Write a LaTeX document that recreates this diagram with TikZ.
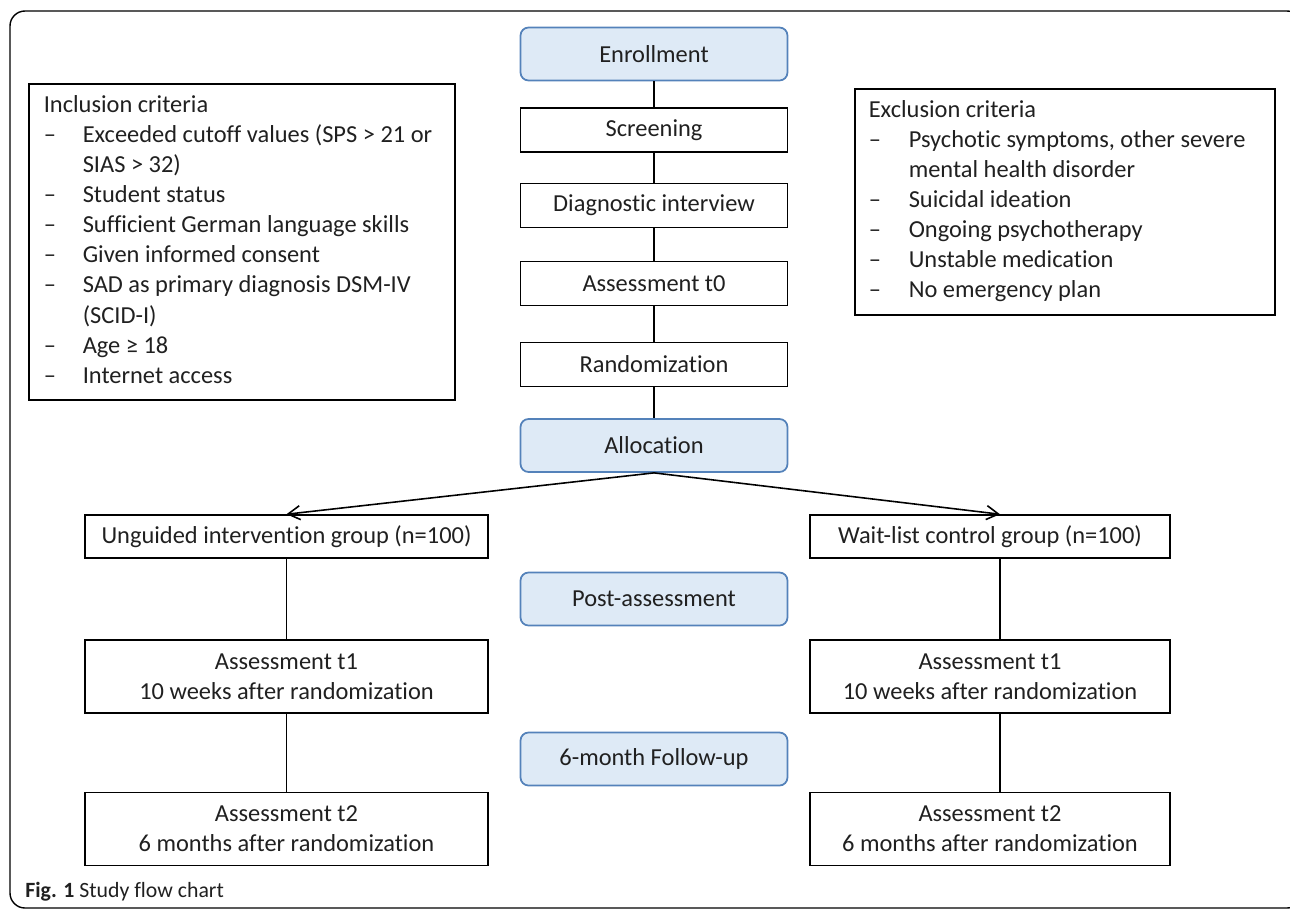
\documentclass[tikz,border=0pt]{standalone}
\usepackage{fontspec}
\setmainfont{Carlito}[Ligatures=NoCommon]
\usepackage{array}
\usepackage{xcolor}
\usetikzlibrary{arrows.meta, positioning}
\definecolor{phasefill}{RGB}{222,234,246}
\definecolor{phaseline}{RGB}{84,130,186}
\definecolor{ink}{RGB}{32,32,32}
\newcommand{\flowfont}{\fontsize{13.9}{17.1}\selectfont}
\tikzset{
    every node/.style={font=\flowfont, text=ink}, % one font for the whole chart
    stage/.style={draw, line width=0.9pt, minimum width=5.34cm, minimum height=0.88cm, inner sep=0pt}, % white steps in the middle
    phase/.style={draw=phaseline, fill=phasefill, line width=1pt, rounded corners=0.16cm,
        minimum width=5.34cm, minimum height=1.06cm, inner sep=0pt}, % blue phase labels
    arm/.style={draw, line width=0.9pt, minimum width=8.06cm, minimum height=0.86cm, inner sep=0pt, align=center},
    armcheck/.style={arm, minimum height=1.46cm},
    critbox/.style={draw, line width=0.9pt, anchor=north west, inner xsep=0.3cm, inner ysep=4.5pt},
    link/.style={line width=0.9pt},
    split/.style={line width=0.9pt, -{Straight Barb[length=2.4mm,width=2.8mm]}},
}

\begin{document}
\begin{tikzpicture}[x=0.02cm, y=-0.02cm]
    \useasboundingbox (0,0) rectangle (1290,910);
    \clip (0,0) rectangle (1290,910);
    \draw[line width=0.8pt, rounded corners=0.3cm] (10,11) rectangle (1302,908);

    % middle column
    \node[phase] (enrol) at (654,54) {Enrollment};
    \node[stage] (screen) at (654,130) {Screening};
    \node[stage] (diag) at (654,205.5) {Diagnostic interview};
    \node[stage] (base) at (654,283.5) {Assessment t0};
    \node[stage] (rand) at (654,364.5) {Randomization};
    \node[phase] (alloc) at (654,445.5) {Allocation};
    \node[phase] (post) at (654,599) {Post-assessment};
    \node[phase] (follow) at (654,759) {6-month Follow-up};

    % the two arms
    \node[arm] (ug) at (286.5,536.5) {Unguided intervention group (n=100)};
    \node[armcheck] (ugpost) at (286.5,676.5) {Assessment t1\\10 weeks after randomization};
    \node[armcheck] (ugfu) at (286.5,829) {Assessment t2\\6 months after randomization};
    \node[arm, minimum width=7.2cm] (wl) at (990,536.5) {Wait-list control group (n=100)};
    \node[armcheck, minimum width=7.2cm] (wlpost) at (990,676.5) {Assessment t1\\10 weeks after randomization};
    \node[armcheck, minimum width=7.2cm] (wlfu) at (990,829) {Assessment t2\\6 months after randomization};

    % criteria
    \node[critbox] (incl) at (28,83) {\begin{tabular}{@{}p{0.78cm}@{}>{\raggedright\arraybackslash}p{7.14cm}@{}}
        \multicolumn{2}{@{}l@{}}{Inclusion criteria}\\
        – & Exceeded cutoff values (SPS > 21 or\\
          & SIAS > 32)\\
        – & Student status\\
        – & Sufficient German language skills\\
        – & Given informed consent\\
        – & SAD as primary diagnosis DSM-IV\\
          & (SCID-I)\\
        – & Age ≥ 18\\
        – & Internet access
    \end{tabular}};
    \node[critbox, inner xsep=0.28cm] (excl) at (854,88) {\begin{tabular}{@{}p{0.8cm}@{}>{\raggedright\arraybackslash}p{7.04cm}@{}}
        \multicolumn{2}{@{}l@{}}{Exclusion criteria}\\
        – & Psychotic symptoms, other severe\\
          & mental health disorder\\
        – & Suicidal ideation\\
        – & Ongoing psychotherapy\\
        – & Unstable medication\\
        – & No emergency plan
    \end{tabular}};

    \node[anchor=base west, inner sep=0pt, font=\fontsize{12.4}{14}\selectfont] (cap) at (25,897) {\textbf{Fig. 1} Study flow chart};

    \draw[link] (enrol) -- (screen) -- (diag) -- (base) -- (rand) -- (alloc);
    \draw[link] (ug) -- (ugpost) -- (ugfu);
    \draw[link] ([xshift=0.2cm]wl.south) -- ([xshift=0.2cm]wlpost.north);
    \draw[link] ([xshift=0.2cm]wlpost.south) -- ([xshift=0.2cm]wlfu.north);
    \draw[split] (alloc.south) -- (ug.north);
    \draw[split] (alloc.south) -- ([xshift=0.2cm]wl.north);
\end{tikzpicture}
\end{document}
